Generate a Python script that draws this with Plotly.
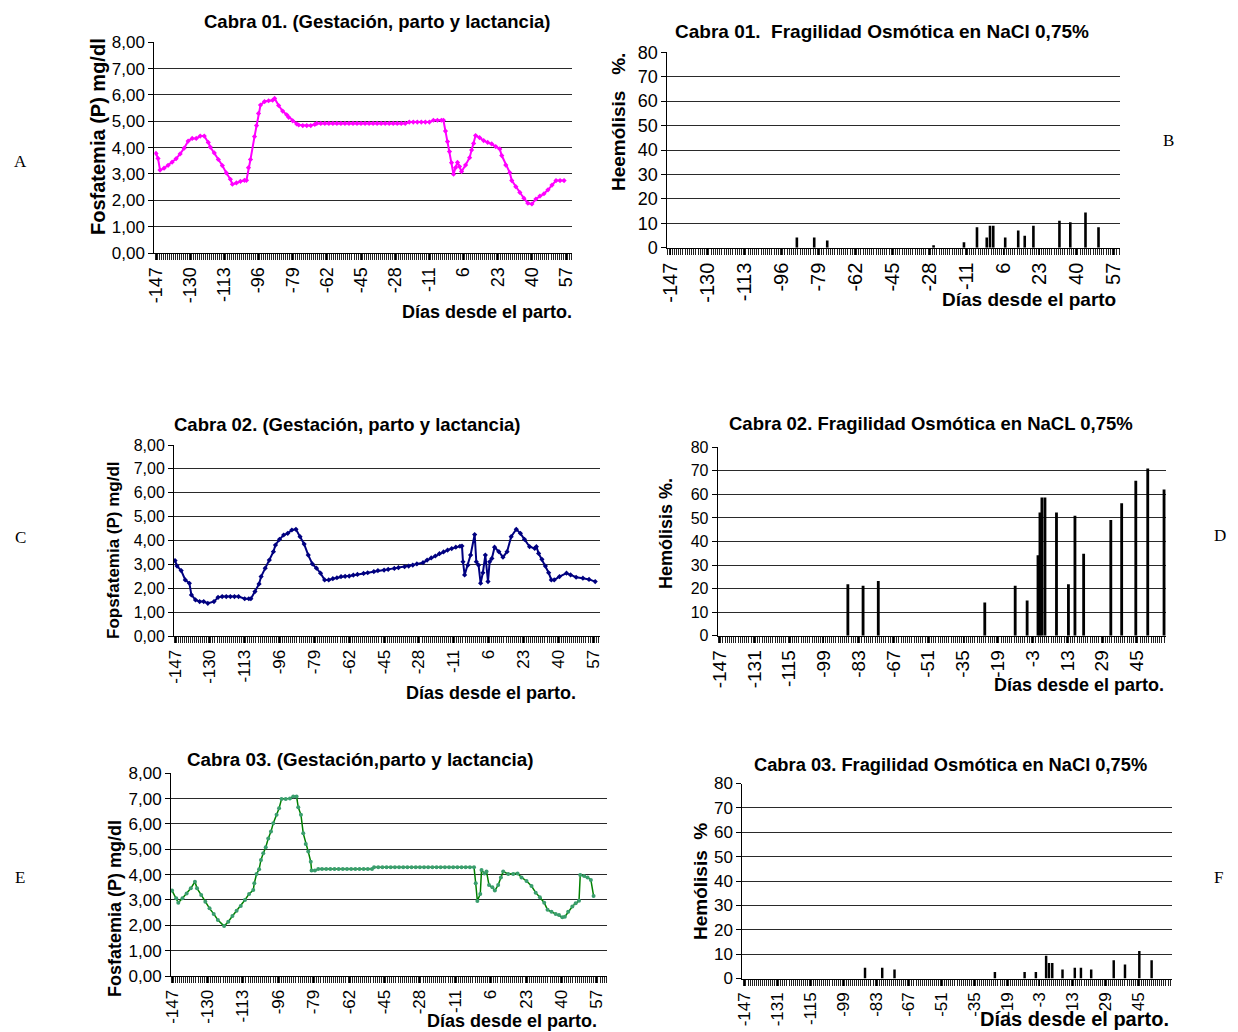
import plotly.graph_objects as go

# the page body adds an 8 px margin; the figure is sized and positioned to compensate
OFF = 8
W, H = 1238 - OFF, 1032 - OFF
FONT = "Liberation Sans"

# ---------------- data ----------------
# Cabra 01 - fosfatemia (mg/dl)
A_days = [-147, -146, -145, -143, -141, -139, -137, -135, -133, -131,
          -129, -127, -125, -123, -121, -120, -118, -116, -114, -112,
          -110, -109, -107, -105, -103, -102, -101, -100, -98, -97,
          -96, -95, -93, -91, -89, -88, -86, -84, -82, -81,
          -79, -77, -76, -74, -72, -70, -68, -67, -65, -63,
          -61, -59, -57, -55, -53, -51, -49, -47, -45, -43,
          -41, -39, -37, -35, -33, -31, -29, -27, -25, -23,
          -21, -19, -17, -15, -13, -11, -9, -7, -5, -4,
          -3, -2, -1, 0, 1, 2, 3, 4, 5, 7,
          9, 10, 11, 12, 14, 16, 18, 20, 22, 24,
          25, 27, 29, 30, 32, 34, 36, 38, 40, 42,
          44, 46, 48, 50, 52, 54, 56]
A_vals = [3.78, 3.59, 3.15, 3.22, 3.33, 3.45, 3.58, 3.76, 3.98, 4.25,
          4.35, 4.35, 4.44, 4.44, 4.20, 4.02, 3.80, 3.55, 3.32, 3.04,
          2.80, 2.61, 2.66, 2.72, 2.76, 2.76, 3.24, 3.55, 4.42, 4.84,
          5.30, 5.62, 5.75, 5.78, 5.80, 5.87, 5.60, 5.39, 5.25, 5.15,
          5.02, 4.90, 4.86, 4.84, 4.84, 4.84, 4.88, 4.92, 4.92, 4.92,
          4.92, 4.92, 4.92, 4.92, 4.92, 4.92, 4.92, 4.92, 4.92, 4.92,
          4.92, 4.92, 4.92, 4.92, 4.92, 4.92, 4.92, 4.92, 4.92, 4.92,
          4.97, 4.97, 4.97, 4.97, 4.97, 4.97, 5.04, 5.04, 5.04, 5.04,
          4.63, 4.23, 3.85, 3.43, 2.99, 3.24, 3.44, 3.28, 3.09, 3.34,
          3.62, 3.91, 4.16, 4.46, 4.38, 4.27, 4.20, 4.14, 4.04, 3.95,
          3.70, 3.34, 3.05, 2.75, 2.52, 2.30, 2.08, 1.89, 1.86, 2.05,
          2.16, 2.25, 2.40, 2.58, 2.75, 2.75, 2.75]

# Cabra 01 - hemolisis (%)
B_days = [-89, -81, -75, -26, -12, -6, -1.5, 0, 1.5, 7, 13, 16, 20, 32, 37, 44, 50]
B_vals = [4.2, 4.2, 2.9, 1.0, 2.2, 8.4, 4.2, 9.0, 9.0, 4.2, 7.0, 4.9, 9.0, 11.0, 10.4, 14.4, 8.4]

# Cabra 02 - fosfatemia (mg/dl)
C_days = [-147, -146, -144, -142, -140, -139, -137, -135, -133, -131,
          -128, -126, -124, -122, -120, -118, -116, -113, -111, -110,
          -108, -106, -105, -103, -101, -99, -98, -96, -94, -92,
          -90, -88, -86, -84, -82, -80, -78, -76, -74, -72,
          -70, -68, -66, -64, -62, -60, -58, -55, -53, -50,
          -48, -45, -43, -40, -38, -35, -33, -31, -29, -26,
          -24, -22, -20, -18, -16, -14, -12, -10, -8, -7,
          -6.5, -5.7, -4.1, -2.8, -0.8, 0, 1.1, 2.1, 3.2, 4.4,
          5.7, 6.5, 7.6, 8.9, 11, 13, 15, 17, 19.5, 21.5,
          23.5, 26, 28.5, 29.3, 30.4, 32, 33.7, 35.3, 36.6, 38,
          40.6, 44, 46, 48.7, 52, 55, 58]
C_vals = [3.16, 2.93, 2.74, 2.35, 2.21, 1.72, 1.51, 1.44, 1.44, 1.37,
          1.44, 1.62, 1.65, 1.65, 1.65, 1.65, 1.65, 1.56, 1.56, 1.56,
          1.86, 2.18, 2.49, 2.84, 3.18, 3.53, 3.81, 4.05, 4.23, 4.30,
          4.44, 4.47, 4.16, 3.85, 3.39, 3.02, 2.84, 2.63, 2.35, 2.35,
          2.40, 2.44, 2.49, 2.50, 2.51, 2.55, 2.58, 2.62, 2.65, 2.70,
          2.74, 2.76, 2.79, 2.83, 2.86, 2.90, 2.93, 2.97, 3.02, 3.07,
          3.18, 3.27, 3.35, 3.45, 3.52, 3.60, 3.66, 3.72, 3.76, 3.77,
          3.11, 2.56, 2.97, 3.39, 4.25, 3.11, 2.97, 2.21, 2.65, 3.39,
          2.28, 3.11, 3.25, 3.72, 3.53, 3.30, 3.53, 4.16, 4.47, 4.30,
          4.05, 3.74, 3.67, 3.74, 3.46, 3.21, 2.93, 2.65, 2.35, 2.35,
          2.49, 2.63, 2.56, 2.46, 2.42, 2.37, 2.28]

# Cabra 02 - hemolisis (%)
D_days = [-88, -81, -74, -25, -11, -5.5, -0.5, 0.4, 1.3, 2.7, 8, 13.5, 16.5, 20.5, 33, 38, 44.5, 50, 57.5]
D_vals = [21.9, 21.2, 23.2, 14.1, 21.2, 14.9, 34.2, 52.3, 58.7, 58.7, 52.3, 21.9, 50.9, 34.8, 49.1, 56.2, 65.8, 71.0, 62.1]

# Cabra 03 - fosfatemia (mg/dl)
E_days = [-147, -145, -144, -142, -140, -138, -136, -135, -133, -131,
          -129, -127, -125, -122, -120, -118, -116, -114, -112, -110,
          -108, -107.5, -106.4, -105.2, -104.3, -103.2, -102, -100.8, -99.5, -98.4,
          -96.8, -95.6, -94.4, -92.4, -90.4, -88.8, -87.2, -86.4, -85.1, -84,
          -82.8, -81.6, -80.4, -80, -78.4, -76.8, -75, -73, -71, -69,
          -67, -65, -63, -61, -59, -57, -55, -53, -51, -50,
          -48, -46, -44, -42, -40, -38, -36, -34, -32, -30,
          -28, -26, -24, -22, -20, -18, -16, -14, -12, -10,
          -8, -6, -4, -2, -1.2, -0.4, 1, 1.6, 3, 4,
          5.2, 6.8, 8, 9.6, 10.9, 12, 14.4, 16.8, 18.9, 20.8,
          23.2, 25.6, 27.6, 29.6, 31.7, 33.3, 35.2, 37.2, 38.8, 40.4,
          41.6, 43.2, 45.2, 46.8, 48.4, 49, 50.9, 52.5, 54.1, 55.4]
E_vals = [3.37, 3.07, 2.89, 3.07, 3.26, 3.46, 3.72, 3.46, 3.20, 2.93,
          2.67, 2.45, 2.21, 1.97, 2.14, 2.37, 2.58, 2.76, 3.00, 3.24,
          3.39, 3.66, 4.03, 4.21, 4.58, 4.84, 5.08, 5.43, 5.70, 6.03,
          6.36, 6.62, 6.99, 6.99, 7.01, 7.08, 7.08, 6.66, 6.36, 5.63,
          5.21, 4.91, 4.51, 4.16, 4.16, 4.22, 4.22, 4.22, 4.22, 4.22,
          4.22, 4.22, 4.22, 4.22, 4.22, 4.22, 4.22, 4.22, 4.22, 4.29,
          4.29, 4.29, 4.29, 4.29, 4.29, 4.29, 4.29, 4.29, 4.29, 4.29,
          4.29, 4.29, 4.29, 4.29, 4.29, 4.29, 4.29, 4.29, 4.29, 4.29,
          4.29, 4.29, 4.29, 4.29, 3.66, 2.96, 3.24, 4.18, 4.05, 4.12,
          3.59, 3.50, 3.37, 3.59, 3.89, 4.12, 4.03, 4.03, 4.05, 3.89,
          3.75, 3.55, 3.29, 3.11, 2.89, 2.61, 2.54, 2.45, 2.41, 2.32,
          2.34, 2.54, 2.74, 2.87, 2.97, 3.99, 3.95, 3.89, 3.79, 3.16]

# Cabra 03 - hemolisis (%)
F_days = [-88.4, -80, -74, -25, -10.5, -5, 0, 1.4, 3, 8, 14, 17, 22, 33, 38.5, 45.5, 51.5]
F_vals = [4.4, 4.4, 3.7, 2.7, 2.7, 2.7, 9.3, 6.4, 6.4, 3.7, 4.4, 4.4, 3.7, 7.5, 5.7, 11.3, 7.5]

# tick labels
ticks17 = [-147, -130, -113, -96, -79, -62, -45, -28, -11, 6, 23, 40, 57]
ticks16 = [-147, -131, -115, -99, -83, -67, -51, -35, -19, -3, 13, 29, 45]
P_ticks = [0, 1, 2, 3, 4, 5, 6, 7, 8]
P_text = ["0,00", "1,00", "2,00", "3,00", "4,00", "5,00", "6,00", "7,00", "8,00"]
H_ticks = [0, 10, 20, 30, 40, 50, 60, 70, 80]
H_text = [str(v) for v in H_ticks]

# ---------------- figure ----------------
fig = go.Figure()

fig.add_trace(go.Scatter(x=A_days, y=A_vals, mode="lines+markers", xaxis="x", yaxis="y",
                         line=dict(color="#FF00FF", width=2),
                         marker=dict(color="#FF00FF", size=4, symbol="diamond")))
fig.add_trace(go.Bar(x=B_days, y=B_vals, xaxis="x2", yaxis="y2", width=1.2,
                     marker=dict(color="black", line=dict(width=0))))
fig.add_trace(go.Scatter(x=C_days, y=C_vals, mode="lines+markers", xaxis="x3", yaxis="y3",
                         line=dict(color="#000080", width=2),
                         marker=dict(color="#000080", size=4, symbol="diamond")))
fig.add_trace(go.Bar(x=D_days, y=D_vals, xaxis="x4", yaxis="y4", width=1.3,
                     marker=dict(color="black", line=dict(width=0))))
fig.add_trace(go.Scatter(x=E_days, y=E_vals, mode="lines+markers", xaxis="x5", yaxis="y5",
                         line=dict(color="#008000", width=1.5),
                         marker=dict(color="#3A9E6E", size=4, symbol="circle")))
fig.add_trace(go.Bar(x=F_days, y=F_vals, xaxis="x6", yaxis="y6", width=1.2,
                     marker=dict(color="black", line=dict(width=0))))


def dx(a, b):
    return [(a - OFF) / W, (b - OFF) / W]


def dy(bottom, top):
    return [1 - (bottom - OFF) / H, 1 - (top - OFF) / H]


def xaxis(dom, rng, tv, fs, anchor):
    return dict(domain=dom, range=rng, anchor=anchor, automargin=False,
                tickmode="array", tickvals=tv,
                ticktext=[str(v) for v in tv], tickangle=-90,
                tickfont=dict(family=FONT, size=fs, color="black"),
                ticks="outside", ticklen=6, tickcolor="black", tickwidth=1,
                showline=True, linecolor="black", linewidth=1,
                showgrid=False, zeroline=False,
                minor=dict(ticks="outside", dtick=1, tick0=0.5, ticklen=6,
                           tickcolor="#222222", tickwidth=1, showgrid=False))


def yaxis(dom, rng, tv, tt, fs, anchor):
    return dict(domain=dom, range=rng, anchor=anchor, automargin=False,
                tickmode="array", tickvals=tv,
                ticktext=tt, tickfont=dict(family=FONT, size=fs, color="black"),
                ticks="outside", ticklen=5, tickcolor="black",
                showline=True, linecolor="black", linewidth=1,
                showgrid=True, gridcolor="#2a2a2a", gridwidth=1, zeroline=False)


fig.update_layout(
    template="none",
    width=W, height=H, autosize=False,
    margin=dict(l=0, r=0, t=0, b=0, pad=0),
    paper_bgcolor="white", plot_bgcolor="white",
    showlegend=False, hovermode=False,
    xaxis=xaxis(dx(154.3, 571.7), [-147.85, 59.8], ticks17, 18, "y"),
    yaxis=yaxis(dy(253, 42.3), [0, 8], P_ticks, P_text, 17, "x"),
    xaxis2=xaxis(dx(667.3, 1120), [-148.7, 59.9], ticks17, 20, "y2"),
    yaxis2=yaxis(dy(247.7, 52.3), [0, 80], H_ticks, H_text, 18, "x2"),
    xaxis3=xaxis(dx(174, 599.7), [-147.5, 60.2], ticks17, 17, "y3"),
    yaxis3=yaxis(dy(636, 445), [0, 8], P_ticks, P_text, 16, "x3"),
    xaxis4=xaxis(dx(717.7, 1166), [-147.9, 58.4], ticks16, 19, "y4"),
    yaxis4=yaxis(dy(635.7, 447.3), [0, 80], H_ticks, H_text, 16, "x4"),
    xaxis5=xaxis(dx(171, 606.7), [-147.5, 61.7], ticks17, 17, "y5"),
    yaxis5=yaxis(dy(976, 773.3), [0, 8], P_ticks, P_text, 17, "x5"),
    xaxis6=xaxis(dx(742.3, 1171.7), [-148.3, 61.3], ticks16, 17, "y6"),
    yaxis6=yaxis(dy(978.5, 783.5), [0, 80], H_ticks, H_text, 17, "x6"),
)

NB = "\u00a0"
annos = [
    # titles
    ("<b>Cabra 01. (Gestación, parto y lactancia)</b>", 377, 21, 18.5, 0),
    ("<b>Cabra 01." + NB + NB + "Fragilidad Osmótica en NaCl 0,75%</b>", 882, 31, 19, 0),
    ("<b>Cabra 02. (Gestación, parto y lactancia)</b>", 347.5, 424, 18.5, 0),
    ("<b>Cabra 02. Fragilidad Osmótica en NaCL 0,75%</b>", 930.5, 423, 18.5, 0),
    ("<b>Cabra 03. (Gestación,parto y lactancia)</b>", 360, 759, 18.8, 0),
    ("<b>Cabra 03. Fragilidad Osmótica en NaCl 0,75%</b>", 950, 764, 18.3, 0),
    # y titles
    ("<b>Fosfatemia (P) mg/dl</b>", 98, 137, 20, -90),
    ("<b>Heemólisis" + NB + NB + NB + "%.</b>", 618, 122, 19, -90),
    ("<b>Fopsfatemia (P) mg/dl</b>", 113, 550, 17, -90),
    ("<b>Hemólisis %.</b>", 666, 534, 18, -90),
    ("<b>Fosfatemia (P) mg/dl</b>", 115, 909, 18, -90),
    ("<b>Hemólisis" + NB + NB + "%</b>", 700, 882, 19, -90),
    # x titles
    ("<b>Días desde el parto.</b>", 487, 312, 18, 0),
    ("<b>Días desde el parto</b>", 1028.5, 299, 19, 0),
    ("<b>Días desde el parto.</b>", 490.5, 693, 18, 0),
    ("<b>Días desde el parto.</b>", 1078.5, 685, 18, 0),
    ("<b>Días desde el parto.</b>", 512, 1021, 18, 0),
    ("<b>Días desde el parto.</b>", 1074.5, 1019, 20, 0),
]
for text, x, y, size, ang in annos:
    fig.add_annotation(text=text, x=(x - OFF) / W, y=1 - (y - OFF) / H, xref="paper", yref="paper",
                       xanchor="center", yanchor="middle", showarrow=False, textangle=ang,
                       font=dict(family=FONT, size=size, color="black"))

letters = [("A", 20, 161), ("B", 1168, 140), ("C", 20, 537),
           ("D", 1220, 535), ("E", 20, 877), ("F", 1218, 877)]
for t, x, y in letters:
    fig.add_annotation(text=t, x=(x - OFF) / W, y=1 - (y - OFF) / H, xref="paper", yref="paper",
                       xanchor="center", yanchor="middle", showarrow=False,
                       font=dict(family="Liberation Serif", size=17, color="black"))

fig.write_html("out.html")
